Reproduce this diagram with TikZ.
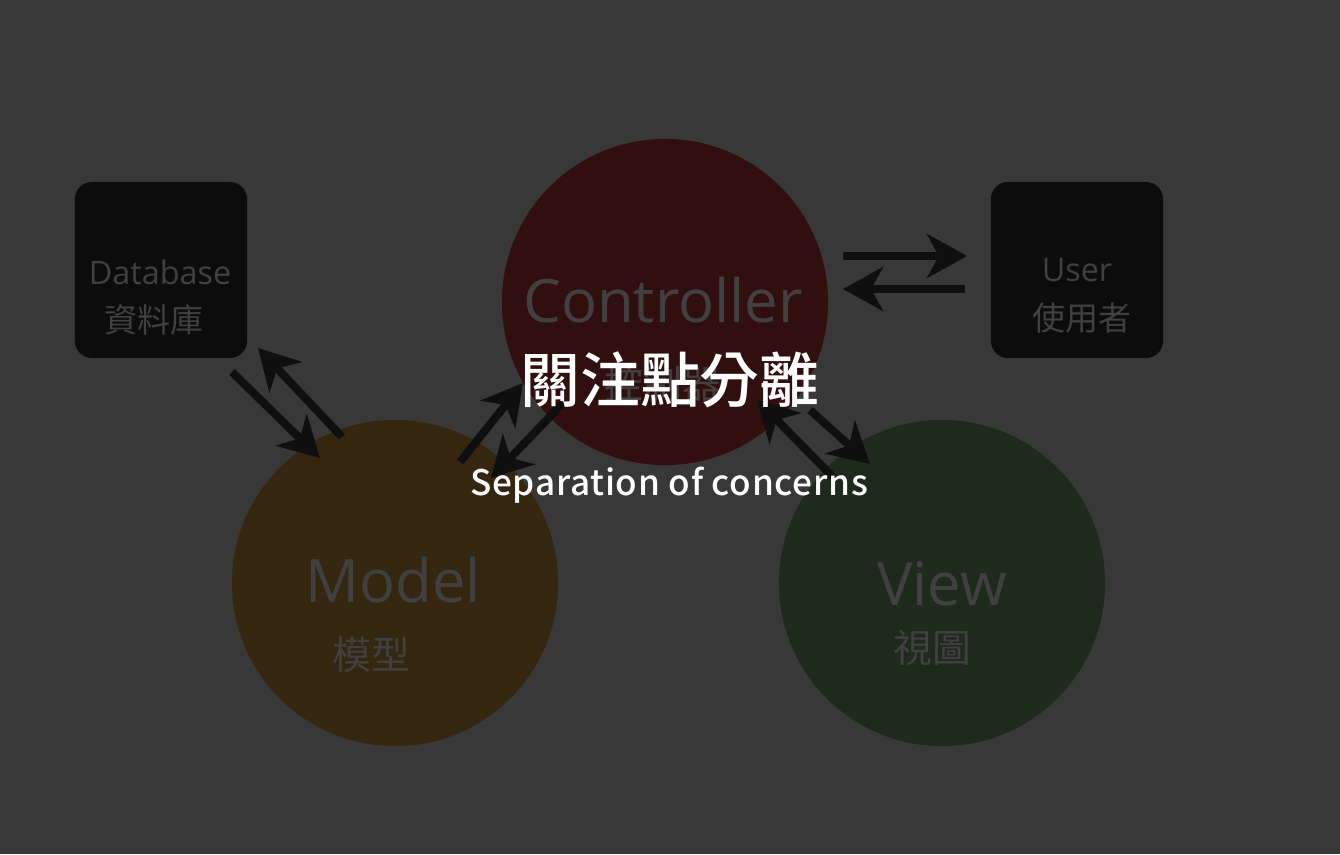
\documentclass[tikz,border=0pt]{standalone}
\usepackage{fontspec}
\setmainfont{Open Sans}
\newfontfamily\cjk{Noto Sans CJK TC}
\newfontfamily\cjkmed{Noto Sans CJK TC Medium}
\newfontfamily\cjkspaced{Noto Sans CJK TC Medium}[LetterSpace=2]
\usetikzlibrary{arrows.meta}

\definecolor{bgcol}{HTML}{383838}
\definecolor{boxcol}{HTML}{0C0C0C}
\definecolor{ctrlcol}{HTML}{320F0F}
\definecolor{modelcol}{HTML}{34260F}
\definecolor{viewcol}{HTML}{1E2A1C}
\definecolor{dimtext}{HTML}{404040}
\definecolor{arrowcol}{HTML}{0F0F0F}

\begin{document}
\begin{tikzpicture}[
    x=0.01cm, y=-0.01cm,
    box/.style={
        fill=boxcol,
        rounded corners=0.17cm,
        minimum width=1.72cm,
        minimum height=1.76cm,
        inner sep=0pt,
    },
    part/.style={
        circle,
        minimum size=3.26cm,
        inner sep=0pt,
    },
    bigtext/.style={text=dimtext, font=\fontsize{17}{20}\selectfont},
    midtext/.style={text=dimtext, font=\cjk\fontsize{11}{13}\selectfont},
    smalltext/.style={text=dimtext, font=\fontsize{9.2}{11}\selectfont},
    smallcjk/.style={text=dimtext, font=\cjk\fontsize{9.4}{11}\selectfont},
    link/.style={
        draw=arrowcol,
        line width=0.08cm,
        -{Stealth[length=0.4cm, width=0.44cm, inset=0.12cm]},
    },
    ]
    \useasboundingbox[fill=bgcol] (0,0) rectangle (1340,854);

    \node [box] (db) at (161,270) {};
    \node [box] (user) at (1077,270) {};
    \node [part, fill=ctrlcol] (ctrl) at (665,302) {};
    \node [part, fill=modelcol] (model) at (395,583) {};
    \node [part, fill=viewcol] (view) at (942,583) {};

    \node [smalltext] (dbname) at (160,272) {Database};
    \node [smallcjk] (dbzh) at (154,320) {資料庫};
    \node [smalltext] (username) at (1077,270) {User};
    \node [smallcjk] (userzh) at (1082,318) {使用者};
    \node [bigtext] (ctrlname) at (663,300) {Controller};
    \node [midtext] (ctrlzh) at (663,384) {控制器};
    \node [bigtext] (modelname) at (393,580) {Model};
    \node [midtext] (modelzh) at (371,655) {模型};
    \node [bigtext] (viewname) at (942,584) {View};
    \node [midtext] (viewzh) at (932,648) {視圖};

    \coordinate (dm1) at (232,372); \coordinate (dm2) at (320,458);
    \coordinate (md1) at (342,437); \coordinate (md2) at (258,348);
    \coordinate (mc1) at (460,462); \coordinate (mc2) at (523,383);
    \coordinate (cm1) at (563,403); \coordinate (cm2) at (491,478);
    \coordinate (cv1) at (810,410); \coordinate (cv2) at (870,464);
    \coordinate (vc1) at (833,477); \coordinate (vc2) at (757,400);
    \coordinate (cu1) at (843,256); \coordinate (cu2) at (967,256);
    \coordinate (uc1) at (965,289); \coordinate (uc2) at (843,289);

    \draw [link] (dm1) -- (dm2);
    \draw [link] (md1) -- (md2);
    \draw [link] (mc1) -- (mc2);
    \draw [link] (cm1) -- (cm2);
    \draw [link] (cv1) -- (cv2);
    \draw [link] (vc1) -- (vc2);
    \draw [link] (cu1) -- (cu2);
    \draw [link] (uc1) -- (uc2);

    \node [text=white, font=\cjkmed\fontsize{17}{20}\selectfont] (title) at (670,380) {關注點分離};
    \node [text=white, font=\cjkspaced\fontsize{10}{13}\selectfont] (subtitle) at (669,485) {Separation of concerns};
\end{tikzpicture}
\end{document}
